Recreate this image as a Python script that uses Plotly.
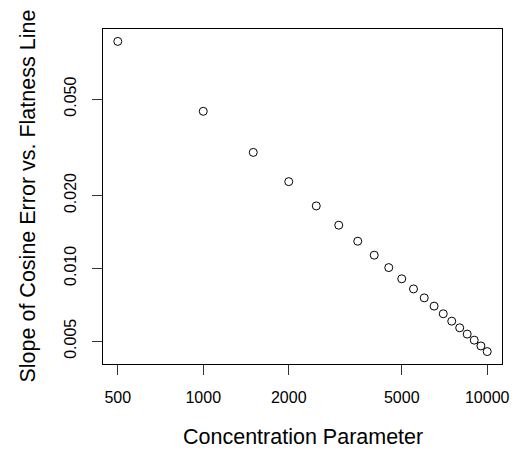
import math
import plotly.graph_objects as go

concentration = [500, 1000, 1500, 2000, 2500, 3000, 3500, 4000, 4500, 5000,
                 5500, 6000, 6500, 7000, 7500, 8000, 8500, 9000, 9500, 10000]
slope = [0.0865, 0.0445, 0.0301, 0.0228, 0.0181, 0.01507, 0.01294, 0.01133, 0.01007, 0.00905,
         0.00822, 0.00755, 0.00698, 0.00649, 0.00605, 0.00568, 0.00535, 0.00505, 0.00478, 0.00453]

x_ticks = [500, 1000, 2000, 5000, 10000]
x_tick_text = ["500", "1000", "2000", "5000", "10000"]
y_ticks = [0.005, 0.010, 0.020, 0.050]
y_tick_text = ["0.005", "0.010", "0.020", "0.050"]

x_title = "Concentration Parameter"
y_title = "Slope of Cosine Error vs. Flatness Line"


def r_range(vals):
    lo, hi = math.log10(min(vals)), math.log10(max(vals))
    d = (hi - lo) * 0.04
    return [lo - d, hi + d]


FONT = "Liberation Sans, Arial, sans-serif"

fig = go.Figure(go.Scatter(
    x=concentration, y=slope, mode="markers",
    marker=dict(symbol="circle-open", size=8, color="black", line=dict(width=1, color="black")),
    showlegend=False, cliponaxis=False,
))

axis_common = dict(
    type="log", showgrid=False, zeroline=False, automargin=False,
    showline=True, mirror=True, linecolor="black", linewidth=1,
    ticks="outside", ticklen=10, tickwidth=1, tickcolor="#333333",
    tickfont=dict(family=FONT, size=16, color="black"),
)

fig.update_xaxes(range=r_range(concentration), tickvals=x_ticks, ticktext=x_tick_text,
                 ticklabelstandoff=9, **axis_common)
fig.update_yaxes(range=r_range(slope), tickvals=y_ticks, ticktext=y_tick_text,
                 tickangle=-90, ticklabelstandoff=10, **axis_common)

fig.update_layout(
    width=516, height=453,
    margin=dict(l=103, r=14, t=29, b=89, pad=0, autoexpand=False),
    paper_bgcolor="white", plot_bgcolor="white",
    font=dict(family=FONT, color="black"),
    annotations=[
        dict(text=x_title, xref="paper", yref="paper", x=0.5, y=0,
             xanchor="center", yanchor="middle", yshift=-73, showarrow=False,
             font=dict(family=FONT, size=21.5, color="black")),
        dict(text=y_title, xref="paper", yref="paper", x=0, y=0.5,
             xanchor="center", yanchor="middle", xshift=-76, textangle=-90, showarrow=False,
             font=dict(family=FONT, size=21.5, color="black")),
    ],
)

fig.write_html("out.html")
